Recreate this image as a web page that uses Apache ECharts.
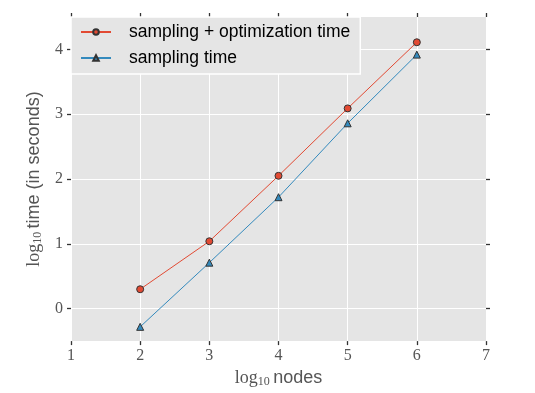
<!DOCTYPE html>
<html><head><meta charset="utf-8">
<script src="https://cdn.jsdelivr.net/npm/echarts@6/dist/echarts.min.js"></script>
<style>html,body{margin:0;padding:0;background:#fff}#c{width:535px;height:393px}</style>
</head><body><div id="c"></div>
<script>
var nodesLog = [2, 3, 4, 5, 6];
var samplingOptTime = [0.30, 1.04, 2.05, 3.09, 4.11];
var samplingTime = [-0.28, 0.71, 1.72, 2.86, 3.92];
var xTicks = [1, 2, 3, 4, 5, 6, 7];
var yTicks = [0, 1, 2, 3, 4];

var chart = echarts.init(document.getElementById('c'));
var tickLabel = {fontFamily: 'Liberation Serif', fontSize: 16, color: '#555'};
var nameRich = {
  l: {fontFamily: 'Liberation Serif', fontSize: 18, color: '#555'},
  s: {fontFamily: 'Liberation Serif', fontSize: 12, color: '#555', padding: [8, 0, 0, 0]},
  t: {fontFamily: 'Liberation Sans', fontSize: 18, color: '#555'}
};
function pair(a, b) { return a.map(function (v, i) { return [v, b[i]]; }); }
function tick(vals) { return {show: true, inside: false, length: 4, lineStyle: {color: '#333', width: 1.3}, customValues: vals}; }
chart.setOption({
  animation: false,
  backgroundColor: '#fff',
  grid: {left: 71, right: 49, top: 17, bottom: 48, show: true, backgroundColor: '#E5E5E5', borderWidth: 0},
  legend: {
    left: 71, top: 17, orient: 'vertical',
    backgroundColor: '#E5E5E5', borderColor: '#fff', borderWidth: 1.5, borderRadius: 0,
    padding: [5, 10, 6, 9], itemWidth: 30, itemHeight: 7, itemGap: 6,
    textStyle: {fontFamily: 'Liberation Sans', fontSize: 17.5, color: '#000', lineHeight: 20, padding: [0, 0, 0, 13]},
    data: ['sampling + optimization time', 'sampling time']
  },
  xAxis: [{
    type: 'value', min: 1, max: 7, interval: 1, position: 'bottom',
    name: '{l|log}{s|10} {t|nodes}', nameLocation: 'middle', nameGap: 18,
    nameTextStyle: {rich: nameRich},
    axisLine: {show: false, onZero: false},
    axisTick: tick(xTicks),
    axisLabel: Object.assign({margin: 7}, tickLabel),
    splitLine: {show: true, lineStyle: {color: '#fff', width: 1}}
  }, {
    type: 'value', min: 1, max: 7, interval: 1, position: 'top',
    axisLine: {show: false, onZero: false}, axisTick: tick(xTicks),
    axisLabel: {show: false}, splitLine: {show: false}
  }],
  yAxis: [{
    type: 'value', min: -0.5, max: 4.5, position: 'left',
    name: '{l|log}{s|10} {t|time (in seconds)}', nameLocation: 'middle', nameGap: 23,
    nameTextStyle: {rich: nameRich},
    axisLine: {show: false, onZero: false},
    axisTick: tick(yTicks),
    axisLabel: Object.assign({margin: 8, customValues: yTicks}, tickLabel),
    splitLine: {show: true, lineStyle: {color: '#fff', width: 1}}
  }, {
    type: 'value', min: -0.5, max: 4.5, position: 'right',
    axisLine: {show: false, onZero: false},
    axisTick: tick(yTicks),
    axisLabel: {show: false, customValues: yTicks}, splitLine: {show: false}
  }],
  series: [{
    name: 'sampling + optimization time', type: 'line', data: pair(nodesLog, samplingOptTime),
    symbol: 'circle', symbolSize: 7,
    lineStyle: {color: '#E24A33', width: 1},
    itemStyle: {color: '#E24A33', borderColor: '#333', borderWidth: 1}
  }, {
    name: 'sampling time', type: 'line', data: pair(nodesLog, samplingTime),
    symbol: 'triangle', symbolSize: 7,
    lineStyle: {color: '#348ABD', width: 1},
    itemStyle: {color: '#348ABD', borderColor: '#333', borderWidth: 1}
  }]
});
</script></body></html>
